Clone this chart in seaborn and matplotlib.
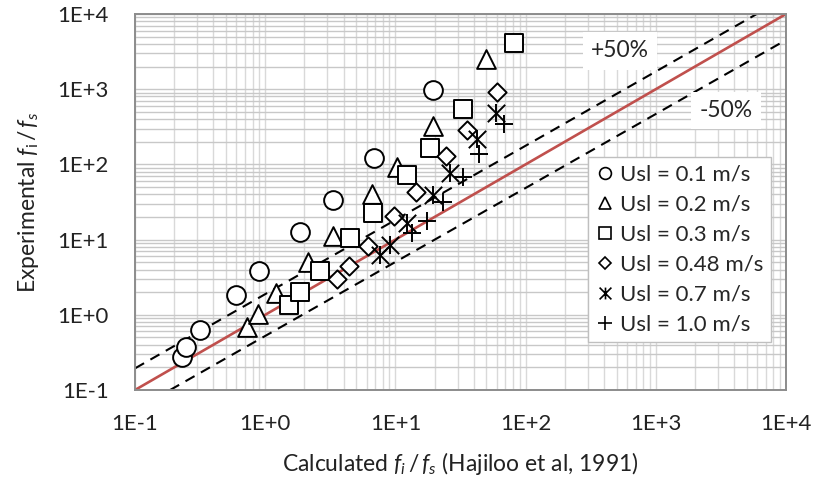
import matplotlib
matplotlib.use("Agg")
import matplotlib.pyplot as plt
import seaborn as sns
import numpy as np
from matplotlib.path import Path
from matplotlib.lines import Line2D
from matplotlib.ticker import FixedLocator, FixedFormatter, LogLocator, NullFormatter

# Calculated (x) vs experimental (y) interfacial-to-wall friction ratio f_i/f_s,
# one series per liquid superficial velocity
calc_u01 = [0.229, 0.247, 0.316, 0.597, 0.90, 1.84, 3.30, 6.86, 19.5]
exp_u01 = [0.277, 0.377, 0.63, 1.83, 3.82, 12.6, 33.6, 123, 975]

calc_u02 = [0.73, 0.875, 1.21, 2.12, 3.30, 6.57, 10.2, 19.3, 49.7]
exp_u02 = [0.695, 1.03, 1.97, 5.1, 11.2, 40, 93, 324, 2500]

calc_u03 = [1.51, 1.85, 2.62, 4.5, 6.76, 12.2, 18.5, 33.3, 81.8]
exp_u03 = [1.35, 2.0, 3.88, 10.4, 22.8, 72, 164, 541, 4075]

calc_u048 = [3.55, 4.42, 6.2, 9.8, 14.3, 24.5, 35.3, 60.7]
exp_u048 = [2.96, 4.5, 8.2, 20.8, 43, 129, 287, 918]

calc_u07 = [7.63, 9.1, 12.2, 19.4, 26.2, 42.1, 58.9]
exp_u07 = [6.24, 8.5, 16.8, 39, 77.6, 216, 487]

calc_u10 = [13.3, 17.4, 23.3, 32.9, 44.1, 68.3]
exp_u10 = [12.1, 17.8, 31.9, 68.7, 137, 344]

series_labels = ["Usl = 0.1 m/s", "Usl = 0.2 m/s", "Usl = 0.3 m/s",
                 "Usl = 0.48 m/s", "Usl = 0.7 m/s", "Usl = 1.0 m/s"]

# Reference lines: perfect agreement and the +/-50% band
parity_x = [0.1, 1e4]
parity_y = [0.1, 1e4]
upper_x = [0.1, 5960]
upper_y = [0.194, 1e4]
lower_x = [0.186, 1e4]
lower_y = [0.1, 4510]

decade_ticks = [0.1, 1, 10, 100, 1000, 10000]
decade_labels = ["1E-1", "1E+0", "1E+1", "1E+2", "1E+3", "1E+4"]

sns.set_theme(style="white")
plt.rcParams["font.family"] = ["Lato", "DejaVu Sans"]
plt.rcParams["mathtext.fontset"] = "custom"
plt.rcParams["mathtext.rm"] = "Lato"
plt.rcParams["mathtext.it"] = "Lato:italic"

fig = plt.figure(figsize=(8.13, 4.83), dpi=100)
ax = fig.add_axes([135 / 813, 93 / 483, 651 / 813, 376 / 483])
ax.set_xscale("log")
ax.set_yscale("log")
ax.set_xlim(0.1, 1e4)
ax.set_ylim(0.1, 1e4)

# grid: major + minor decades
ax.xaxis.set_major_locator(FixedLocator(decade_ticks))
ax.yaxis.set_major_locator(FixedLocator(decade_ticks))
ax.xaxis.set_major_formatter(FixedFormatter(decade_labels))
ax.yaxis.set_major_formatter(FixedFormatter(decade_labels))
ax.xaxis.set_minor_locator(LogLocator(base=10, subs=np.arange(2, 10), numticks=20))
ax.yaxis.set_minor_locator(LogLocator(base=10, subs=np.arange(2, 10), numticks=20))
ax.xaxis.set_minor_formatter(NullFormatter())
ax.yaxis.set_minor_formatter(NullFormatter())
ax.grid(True, which="both", axis="x", color="#D9D9D9", linewidth=1.0)
ax.grid(True, which="both", axis="y", color="#C8C8C8", linewidth=1.0)
ax.set_axisbelow(True)
ax.tick_params(which="both", length=0)
ax.tick_params(axis="x", pad=17, labelsize=16, colors="#222222")
ax.tick_params(axis="y", pad=19, labelsize=16, colors="#222222")
for sp in ax.spines.values():
    sp.set_visible(True)
    sp.set_color("#8C8C8C")
    sp.set_linewidth(1.4)

# reference lines
sns.lineplot(x=parity_x, y=parity_y, ax=ax, color="#C0504D", linewidth=1.9,
             estimator=None, zorder=2)
sns.lineplot(x=upper_x, y=upper_y, ax=ax, color="black", linewidth=1.5,
             linestyle=(0, (5, 3.5)), estimator=None, zorder=2)
sns.lineplot(x=lower_x, y=lower_y, ax=ax, color="black", linewidth=1.5,
             linestyle=(0, (5, 3.5)), estimator=None, zorder=2)

# data markers
mew = 1.4
filled = [
    (calc_u01, exp_u01, "o", 13.5),
    (calc_u02, exp_u02, "^", 13.5),
    (calc_u03, exp_u03, "s", 13.0),
    (calc_u048, exp_u048, "D", 9.3),
]
for cx, ey, mk, ms in filled:
    sns.scatterplot(x=cx, y=ey, ax=ax, marker=mk, s=ms ** 2, color="white",
                    edgecolor="black", linewidth=mew, zorder=3)

# star (x with a vertical bar) for 0.7 m/s
sns.scatterplot(x=calc_u07, y=exp_u07, ax=ax, marker="x", s=12.5 ** 2,
                color="black", linewidth=mew, zorder=3)
sns.scatterplot(x=calc_u07, y=exp_u07, ax=ax, marker="|", s=13.5 ** 2,
                color="black", linewidth=mew, zorder=3)
sns.scatterplot(x=calc_u10, y=exp_u10, ax=ax, marker="+", s=13.0 ** 2,
                color="black", linewidth=mew, zorder=3)

# band annotations
box = dict(boxstyle="square,pad=0.35", facecolor="white", edgecolor="none")
ax.text(531, 3221, "+50%", fontsize=16.5, ha="center", va="center", bbox=box, zorder=4)
ax.text(3459, 528, "-50%", fontsize=16.5, ha="center", va="center", bbox=box, zorder=4)

# legend
star = Path([(0, -1), (0, 1), (-1, -1), (1, 1), (-1, 1), (1, -1)],
            [Path.MOVETO, Path.LINETO, Path.MOVETO, Path.LINETO, Path.MOVETO, Path.LINETO])
handle_specs = [("o", 8.5), ("^", 8.5), ("s", 8.5), ("D", 6.0), (star, 8.5), ("+", 9.5)]
handles = []
for mk, ms in handle_specs:
    fill = "white" if isinstance(mk, str) and mk in "o^sD" else "none"
    handles.append(Line2D([], [], linestyle="none", marker=mk, markersize=ms,
                          markerfacecolor=fill, markeredgecolor="black",
                          markeredgewidth=1.2))
leg = ax.legend(handles, series_labels, loc="upper left",
                bbox_to_anchor=(0.696, 0.620), fontsize=16, frameon=True,
                fancybox=False, framealpha=1, edgecolor="#BFBFBF",
                handlelength=0.8, handletextpad=0.3, labelspacing=0.45,
                borderpad=0.35, borderaxespad=0)
leg.get_frame().set_linewidth(1.0)
leg.set_zorder(5)

ax.set_xlabel(r"Calculated $\mathit{f}_{\mathit{i}}\,/\,\mathit{f}_{\mathit{s}}$ (Hajiloo et al, 1991)",
              fontsize=16.5, color="#222222", labelpad=12)
ax.set_ylabel(r"Experimental $\mathit{f}_{\mathrm{i}}\,/\,\mathit{f}_{\mathit{s}}$",
              fontsize=16.5, color="#222222", labelpad=12)

fig.savefig("out.png", dpi=100)
